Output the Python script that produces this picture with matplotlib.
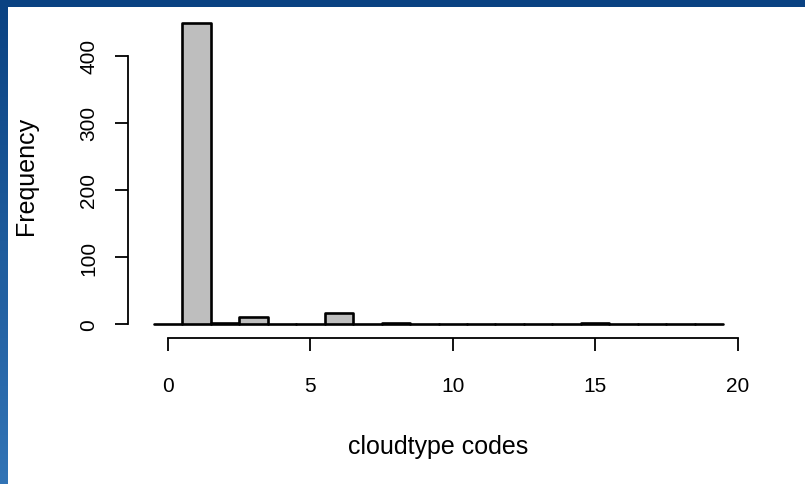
import numpy as np
import matplotlib
matplotlib.use("Agg")
import matplotlib.pyplot as plt
from matplotlib.patches import Rectangle

# histogram of cloudtype codes (unit bins, -0.5 .. 19.5)
bin_lefts = [-0.5, 0.5, 1.5, 2.5, 3.5, 4.5, 5.5, 6.5, 7.5, 8.5,
             9.5, 10.5, 11.5, 12.5, 13.5, 14.5, 15.5, 16.5, 17.5, 18.5]
counts = [0, 449, 2, 10, 0, 0, 16, 0, 2, 0,
          0, 0, 0, 0, 0, 2, 0, 0, 0, 0]
x_ticks = [0, 5, 10, 15, 20]
y_ticks = [0, 100, 200, 300, 400]

W, H = 805, 485
plt.rcParams['font.family'] = ['Liberation Sans', 'DejaVu Sans']

fig = plt.figure(figsize=(W / 100, H / 100), dpi=100)

# slide background: blue gradient band on top and left
bg = fig.add_axes([0, 0, 1, 1], zorder=0)
grad = np.linspace(0, 1, 256).reshape(-1, 1)
top_col = np.array([0x0a, 0x42, 0x82]) / 255
bot_col = np.array([0x32, 0x74, 0xb6]) / 255
img = top_col + grad[..., None] * (bot_col - top_col)
img = np.repeat(img, 2, axis=1)
bg.imshow(img, aspect='auto', extent=[0, 1, 0, 1], origin='upper')
bg.add_patch(Rectangle((8 / W, 0), 1, 1 - 8 / H, facecolor='white', edgecolor='none'))
bg.set_xlim(0, 1)
bg.set_ylim(0, 1)
bg.axis('off')

ax = fig.add_axes([128 / W, (H - 339) / H, (749 - 128) / W, (339 - 12) / H], zorder=1)
ax.patch.set_alpha(0)

bars = ax.bar(bin_lefts, counts, width=1, align='edge', color='#bebebe',
              edgecolor='black', linewidth=1.9)
for b in bars:
    b.set_joinstyle('round')
    b.set_capstyle('round')

ax.set_xlim(-1.4, 20.4)
ax.set_ylim(-20.9, 467)

for s in ['top', 'right']:
    ax.spines[s].set_visible(False)
ax.spines['left'].set_bounds(0, 400)
ax.spines['bottom'].set_bounds(0, 20)
ax.spines['left'].set_linewidth(1.3)
ax.spines['bottom'].set_linewidth(1.3)

ax.set_xticks(x_ticks)
ax.set_yticks(y_ticks)
ax.tick_params(direction='out', length=9.5, width=1.3, labelsize=15)
ax.tick_params(axis='x', pad=18)
ax.tick_params(axis='y', labelrotation=90, pad=12)
for lab in ax.get_yticklabels():
    lab.set_va('center')

ax.set_xlabel('cloudtype codes', fontsize=18)
ax.set_ylabel('Frequency', fontsize=18)
ax.xaxis.set_label_coords(0.5, -(447 - 339) / 327, transform=ax.transAxes)
ax.yaxis.set_label_coords(-(128 - 26) / 621, 0.5, transform=ax.transAxes)
ax.xaxis.label.set_va('center')
ax.yaxis.label.set_va('center')

fig.savefig('out.png', dpi=100)
